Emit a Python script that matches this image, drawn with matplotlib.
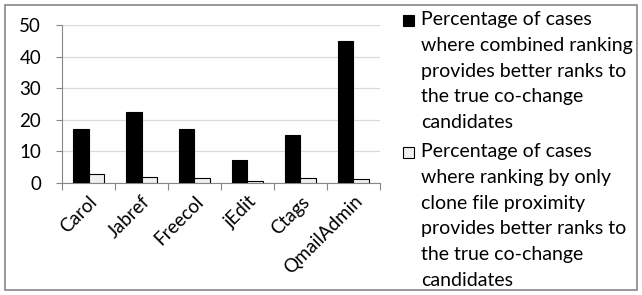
import numpy as np
import matplotlib
matplotlib.use("Agg")
import matplotlib.pyplot as plt
from matplotlib.patches import Rectangle
from matplotlib.transforms import ScaledTranslation

projects = ["Carol", "Jabref", "Freecol", "jEdit", "Ctags", "QmailAdmin"]
combined = [17.0, 22.6, 17.0, 7.4, 15.3, 44.8]
clone_only = [2.9, 2.0, 1.6, 0.6, 1.6, 1.3]
lab_combined = ["Percentage of cases", "where combined ranking", "provides better ranks to",
                "the true co-change", "candidates"]
lab_clone = ["Percentage of cases", "where ranking by only", "clone file proximity",
             "provides better ranks to", "the true co-change", "candidates"]

plt.rcParams['font.family'] = ['Lato', 'DejaVu Sans']

W, H = 642, 295
fig = plt.figure(figsize=(W/100, H/100), dpi=100)
ax = fig.add_axes([62/W, 112/H, 318/W, 158/H])

x = np.arange(len(projects))
w = 0.3
ax.bar(x - w/2, combined, w, color="black", edgecolor="black", linewidth=0.8, zorder=3)
ax.bar(x + w/2, clone_only, w, color="#f0f0f0", edgecolor="black", linewidth=0.8, zorder=3)

ax.set_xlim(-0.5, len(projects) - 0.5)
ax.set_ylim(0, 50)
ax.set_yticks(np.arange(0, 51, 10))
ax.yaxis.grid(True, color="#d9d9d9", linewidth=0.9, zorder=0)
for s in ['top', 'right']:
    ax.spines[s].set_visible(False)
ax.spines['left'].set_color("#868686")
ax.spines['bottom'].set_color("#868686")

# category ticks on boundaries, labels at centers
ax.set_xticks(np.arange(-0.5, len(projects), 1.0))
ax.set_xticklabels([])
ax.set_xticks(x, minor=True)
ax.set_xticklabels(projects, minor=True, rotation=45, ha='right',
                   rotation_mode='anchor', fontsize=13.5)
shift = ScaledTranslation(5/100, -4/100, fig.dpi_scale_trans)
for lbl in ax.get_xticklabels(minor=True):
    lbl.set_transform(lbl.get_transform() + shift)
ax.tick_params(axis='x', which='minor', length=0, pad=7)
ax.tick_params(axis='x', which='major', length=5, color="#868686")
ax.tick_params(axis='y', length=4, color="#868686", labelsize=13.5, pad=11)

# legend drawn by hand: marker + one text per line (pixel layout, y from top)
def legend_entry(y0, lines, face):
    fig.patches.append(Rectangle((403/W, 1 - (y0 + 13)/H), 11/W, 11/H, transform=fig.transFigure,
                                 facecolor=face, edgecolor="black", linewidth=0.8))
    for i, line in enumerate(lines):
        fig.text(421/W, 1 - (y0 + 12 + i * 25.8)/H, line, fontsize=14,
                 ha='left', va='baseline')

legend_entry(13, lab_combined, "black")
legend_entry(145, lab_clone, "#f0f0f0")

fig.patches.append(Rectangle((5/W, 5/H), 632/W, 285/H, transform=fig.transFigure,
                             fill=False, edgecolor="#868686", linewidth=1.2))

fig.savefig("out.png", dpi=100)
